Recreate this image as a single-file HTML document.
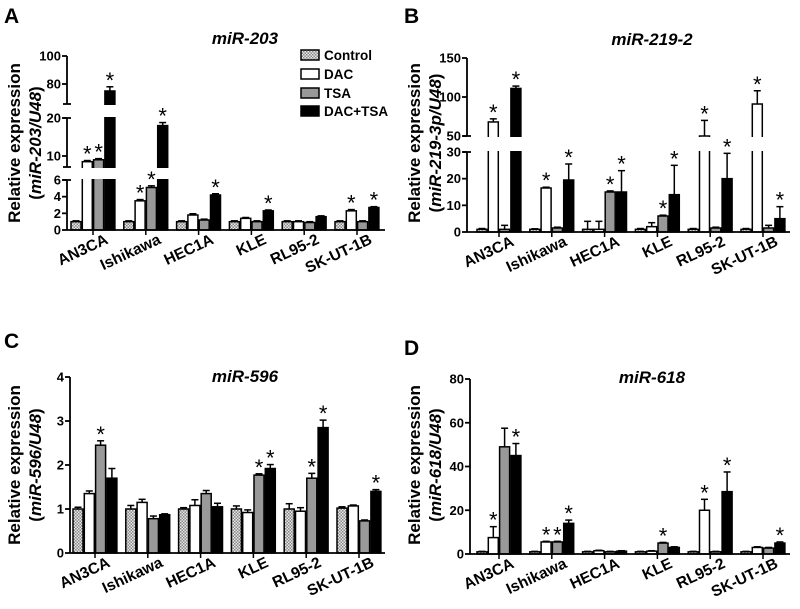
<!DOCTYPE html>
<html><head><meta charset="utf-8"><style>
body{margin:0;background:#fff}
svg{display:block;font-family:"Liberation Sans",Arial,sans-serif}
</style></head><body>
<svg id="fig" width="800" height="609" viewBox="0 0 800 609" xmlns="http://www.w3.org/2000/svg">
<defs>
<pattern id="chk" width="3" height="3" patternUnits="userSpaceOnUse">
<rect width="3" height="3" fill="#e8e8e8"/><rect width="1.5" height="1.5" fill="#888"/><rect x="1.5" y="1.5" width="1.5" height="1.5" fill="#888"/>
</pattern>
</defs>
</svg>
<script>
const categories = ["AN3CA","Ishikawa","HEC1A","KLE","RL95-2","SK-UT-1B"];
const seriesNames = ["Control","DAC","TSA","DAC+TSA"];
// Panel A miR-203
const aControl = [1,1,1,1,1,1];
const aDAC = [8.5,3.5,1.8,1.4,1.0,2.3];
const aTSA = [9,5.1,1.2,1.0,0.9,1.0];
const aDT = [75,18,4.2,2.3,1.6,2.7];
const aErr = [[0.1,0.1,0.1,0.1,0.1,0.1],[0.3,0.15,0.15,0.1,0.1,0.15],[0.3,0.2,0.1,0.1,0.1,0.1],[3,0.8,0.15,0.1,0.1,0.1]];
const aStars = [[0,0,0,0,0,0],[1,1,0,0,0,1],[1,1,0,0,0,0],[1,1,1,1,0,1]];
// Panel B miR-219-2
const bControl = [1,1,1,1,1,1];
const bDAC = [68,16.5,1,2,50,91];
const bTSA = [1,1.5,15,6,1.5,1.5];
const bDT = [111,19.5,15,14,20,5];
const bErr = [[0.3,0.2,3,0.3,0.3,0.3],[4,0.3,3,1.5,20,17],[1.5,0.3,0.4,0.3,0.3,1],[3,6,8,11,9.5,4.5]];
const bStars = [[0,0,0,0,0,0],[1,1,0,0,1,1],[0,0,1,1,0,0],[1,1,1,1,1,1]];
// Panel C miR-596
const cControl = [1.0,1.0,1.0,1.0,1.0,1.02];
const cDAC = [1.35,1.15,1.08,0.92,0.95,1.07];
const cTSA = [2.45,0.78,1.35,1.77,1.7,0.73];
const cDT = [1.7,0.87,1.05,1.92,2.85,1.4];
const cErr = [[0.04,0.08,0.03,0.07,0.12,0.03],[0.06,0.07,0.13,0.06,0.08,0.02],[0.1,0.06,0.07,0.03,0.11,0.02],[0.22,0.02,0.08,0.09,0.17,0.04]];
const cStars = [[0,0,0,0,0,0],[0,0,0,0,0,0],[1,0,0,1,1,0],[0,0,0,1,1,1]];
// Panel D miR-618
const dControl = [1,1,1,1,1,1];
const dDAC = [7.5,5.5,1.5,1.3,20,3];
const dTSA = [49,5.5,1,5,1,2.7];
const dDT = [45,14,1.3,3,28.5,5];
const dErr = [[0.2,0.2,0.2,0.2,0.2,0.2],[5,0.3,0.2,0.2,5,0.3],[8.5,0.3,0.2,0.3,0.2,0.3],[5.5,1.5,0.2,0.3,9,0.5]];
const dStars = [[0,0,0,0,0,0],[1,1,0,0,1,0],[0,1,0,1,0,0],[1,1,0,0,1,1]];

const NS="http://www.w3.org/2000/svg";
const svg=document.getElementById('fig');
function mk(tag,attrs,parent,txt){const e=document.createElementNS(NS,tag);for(const k in attrs)e.setAttribute(k,attrs[k]);if(txt!==undefined)e.textContent=txt;(parent||svg).appendChild(e);return e;}
const fills=["url(#chk)","#fff","#999","#000"];

function panel(o){
  const g=mk('g',{});
  
  
  const segs=o.segs;
  function y(v){
    for(const s of segs){if(v<=s[1]||s===segs[segs.length-1]){const vv=Math.max(v,s[0]);return s[2]+(vv-s[0])/(s[1]-s[0])*(s[3]-s[2]);}}
  }
  const y0=segs[0][2];
  const series=[o.s0,o.s1,o.s2,o.s3];
  const bw=10, step=11.3, pitch=52.8;
  function gx(i){return o.x0+o.off+i*pitch;}
  const bars=mk('g',{},g);
  
  
  const starPos=[];
  categories.forEach((c,i)=>{
    for(let s=0;s<4;s++){
      const v=series[s][i]; const bx=gx(i)+s*step; const top=y(v);
      const r=mk('rect',{x:bx,y:top,width:bw,height:y0-top,fill:fills[s],stroke:'#000','stroke-width':1.5},bars);
      
      
      const e=o.err[s][i]; const et=y(v+e);
      mk('line',{x1:bx+bw/2,x2:bx+bw/2,y1:top,y2:et,stroke:'#000','stroke-width':1.5},bars);
      mk('line',{x1:bx+1.5,x2:bx+bw-1.5,y1:et,y2:et,stroke:'#000','stroke-width':1.5},bars);
      if(o.stars[s][i]) starPos.push([bx+bw/2,et-2]);
    }
  });
  for(let k=1;k<segs.length;k++){
    mk('rect',{x:o.x0-6,y:segs[k][2]+1,width:o.x1-o.x0+8,height:segs[k-1][3]-segs[k][2]-2,fill:'#fff'},g);
  }
  starPos.forEach(p=>{
    const st=mk('text',{x:p[0],y:p[1]+3,'text-anchor':'middle','font-size':22},g,'*');
    
    
  });
  const ax=mk('g',{},g);
  
  
  segs.forEach((s,k)=>{
    mk('line',{x1:o.x0,x2:o.x0,y1:s[2],y2:s[3],stroke:'#000','stroke-width':1.8},ax);
    if(k>0) mk('line',{x1:o.x0-4,x2:o.x0+4,y1:s[2],y2:s[2],stroke:'#000','stroke-width':1.8},ax);
    if(k<segs.length-1) mk('line',{x1:o.x0-4,x2:o.x0+4,y1:s[3],y2:s[3],stroke:'#000','stroke-width':1.8},ax);
  });
  o.ticks.forEach(t=>{const ty=y(t);
    mk('line',{x1:o.x0-5,x2:o.x0,y1:ty,y2:ty,stroke:'#000','stroke-width':1.8},ax);
    const tl=mk('text',{x:o.x0-6,y:ty+4.5,'text-anchor':'end','font-size':13,'font-weight':'bold'},ax,String(t));
    
    
  });
  const xa=mk('line',{x1:o.x0,x2:o.x1,y1:y0,y2:y0,stroke:'#000','stroke-width':1.8},g);
  
  
  categories.forEach((c,i)=>{
    const cx=gx(i)+2*step-0.6;
    mk('line',{x1:cx,x2:cx,y1:y0,y2:y0+5,stroke:'#000','stroke-width':1.5},g);
    const t=mk('text',{x:cx+16,y:y0+13,'text-anchor':'end','font-size':15.5,'font-weight':'bold',transform:`rotate(-25 ${cx+16} ${y0+13})`},g,c);
    
    
  });
  const L=mk('text',{x:o.lx,y:o.ly,'font-size':21,'font-weight':'bold'},g,o.letter);
  
  
  const T=mk('text',{x:o.tx,y:o.ty,'text-anchor':'middle','font-size':17,'font-weight':'bold','font-style':'italic'},g,o.title);
  
  
  const yc=o.ycen;
  const Y1=mk('text',{x:0,y:0,'text-anchor':'middle','font-size':17,'font-weight':'bold',transform:`translate(${o.lx+16},${yc}) rotate(-90)`},g,'Relative expression');
  
  
  const Y2=mk('text',{x:0,y:0,'text-anchor':'middle','font-size':17,'font-weight':'bold',transform:`translate(${o.lx+37},${yc}) rotate(-90)`},g);
  
  
  mk('tspan',{},Y2,'(');mk('tspan',{'font-style':'italic'},Y2,o.sub);mk('tspan',{},Y2,')');
}

panel({letter:'A',lx:4,ly:23,title:'miR-203',tx:245,ty:44,x0:67,x1:385,off:4,ycen:143,sub:'miR-203/U48',
  segs:[[0,6,230,180],[7.1,20,167,118],[65.7,100,104,56]],ticks:[0,2,4,6,10,20,80,100],
  s0:aControl,s1:aDAC,s2:aTSA,s3:aDT,err:aErr,stars:aStars});
panel({letter:'B',lx:404,ly:23,title:'miR-219-2',tx:652,ty:45,x0:467,x1:790,off:10,ycen:143,sub:'miR-219-3p/U48',
  segs:[[0,30,232,152],[50,150,136,58]],ticks:[0,10,20,30,50,100,150],
  s0:bControl,s1:bDAC,s2:bTSA,s3:bDT,err:bErr,stars:bStars});
panel({letter:'C',lx:4,ly:348,title:'miR-596',tx:245,ty:382,x0:70,x1:385,off:3,ycen:465,sub:'miR-596/U48',
  segs:[[0,4,553,377]],ticks:[0,1,2,3,4],
  s0:cControl,s1:cDAC,s2:cTSA,s3:cDT,err:cErr,stars:cStars});
panel({letter:'D',lx:404,ly:355,title:'miR-618',tx:652,ty:383,x0:470,x1:790,off:7,ycen:465,sub:'miR-618/U48',
  segs:[[0,80,554,379]],ticks:[0,20,40,60,80],
  s0:dControl,s1:dDAC,s2:dTSA,s3:dDT,err:dErr,stars:dStars});

const lg=mk('g',{});


const ly=[55,74,93,111];
seriesNames.forEach((n,i)=>{
  const e=mk('g',{},lg);
  
  
  mk('rect',{x:301,y:ly[i]-5,width:18,height:10,fill:fills[i],stroke:'#000','stroke-width':1.5},e);
  mk('text',{x:324,y:ly[i]+5,'font-size':13.5,'font-weight':'bold'},e,n);
});
</script>
</body></html>
